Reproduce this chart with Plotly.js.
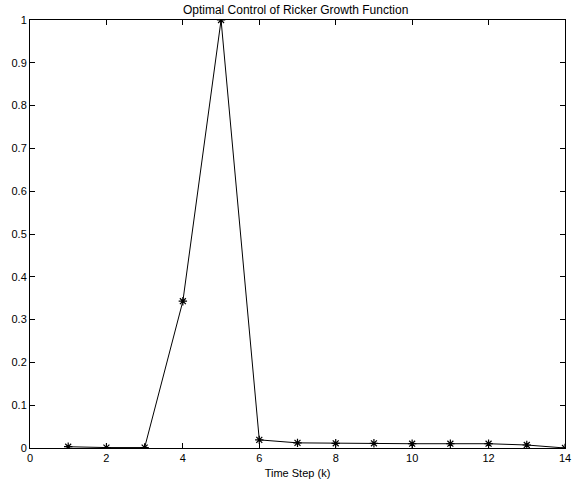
<!DOCTYPE html>
<html><head><meta charset="utf-8">
<script src="https://cdn.plot.ly/plotly-3.0.1.min.js"></script>
<style>html,body{margin:0;padding:0;background:#fff}#chart{width:574px;height:482px}</style>
</head><body><div id="chart"></div>
<script>
const timeSteps = [1,2,3,4,5,6,7,8,9,10,11,12,13,14];
const control = [0.003,0.001,0.001,0.343,1.0,0.019,0.012,0.011,0.011,0.010,0.010,0.010,0.007,0.0];

const axisCommon = {
  showline: true, linecolor: '#000', linewidth: 1, mirror: 'ticks',
  ticks: 'inside', ticklen: 5, tickcolor: '#000', showgrid: false, zeroline: false,
  tickfont: {family: 'Liberation Sans, Arial, sans-serif', size: 11, color: '#000'}
};
Plotly.newPlot('chart', [{
  x: timeSteps, y: control, type: 'scatter', mode: 'lines+markers',
  line: {color: '#000', width: 1},
  marker: {symbol: 'asterisk-open', size: 7, color: '#000', line: {color: '#000', width: 1.2}}
}], {
  width: 574, height: 482,
  margin: {l: 30, r: 9, t: 20, b: 34},
  paper_bgcolor: '#fff', plot_bgcolor: '#fff',
  showlegend: false,
  title: {text: 'Optimal Control of Ricker Growth Function', x: 0.515, xanchor: 'center', y: 0.988, yanchor: 'top',
    font: {family: 'Liberation Sans, Arial, sans-serif', size: 12, color: '#000'}},
  xaxis: Object.assign({}, axisCommon, {range: [0, 14], tickvals: [0,2,4,6,8,10,12,14],
    title: {text: 'Time Step (k)', standoff: 6, font: {family: 'Liberation Sans, Arial, sans-serif', size: 11, color: '#000'}}}),
  yaxis: Object.assign({}, axisCommon, {range: [0, 1], dtick: 0.1, tick0: 0})
}, {displayModeBar: false, staticPlot: true});
</script></body></html>
